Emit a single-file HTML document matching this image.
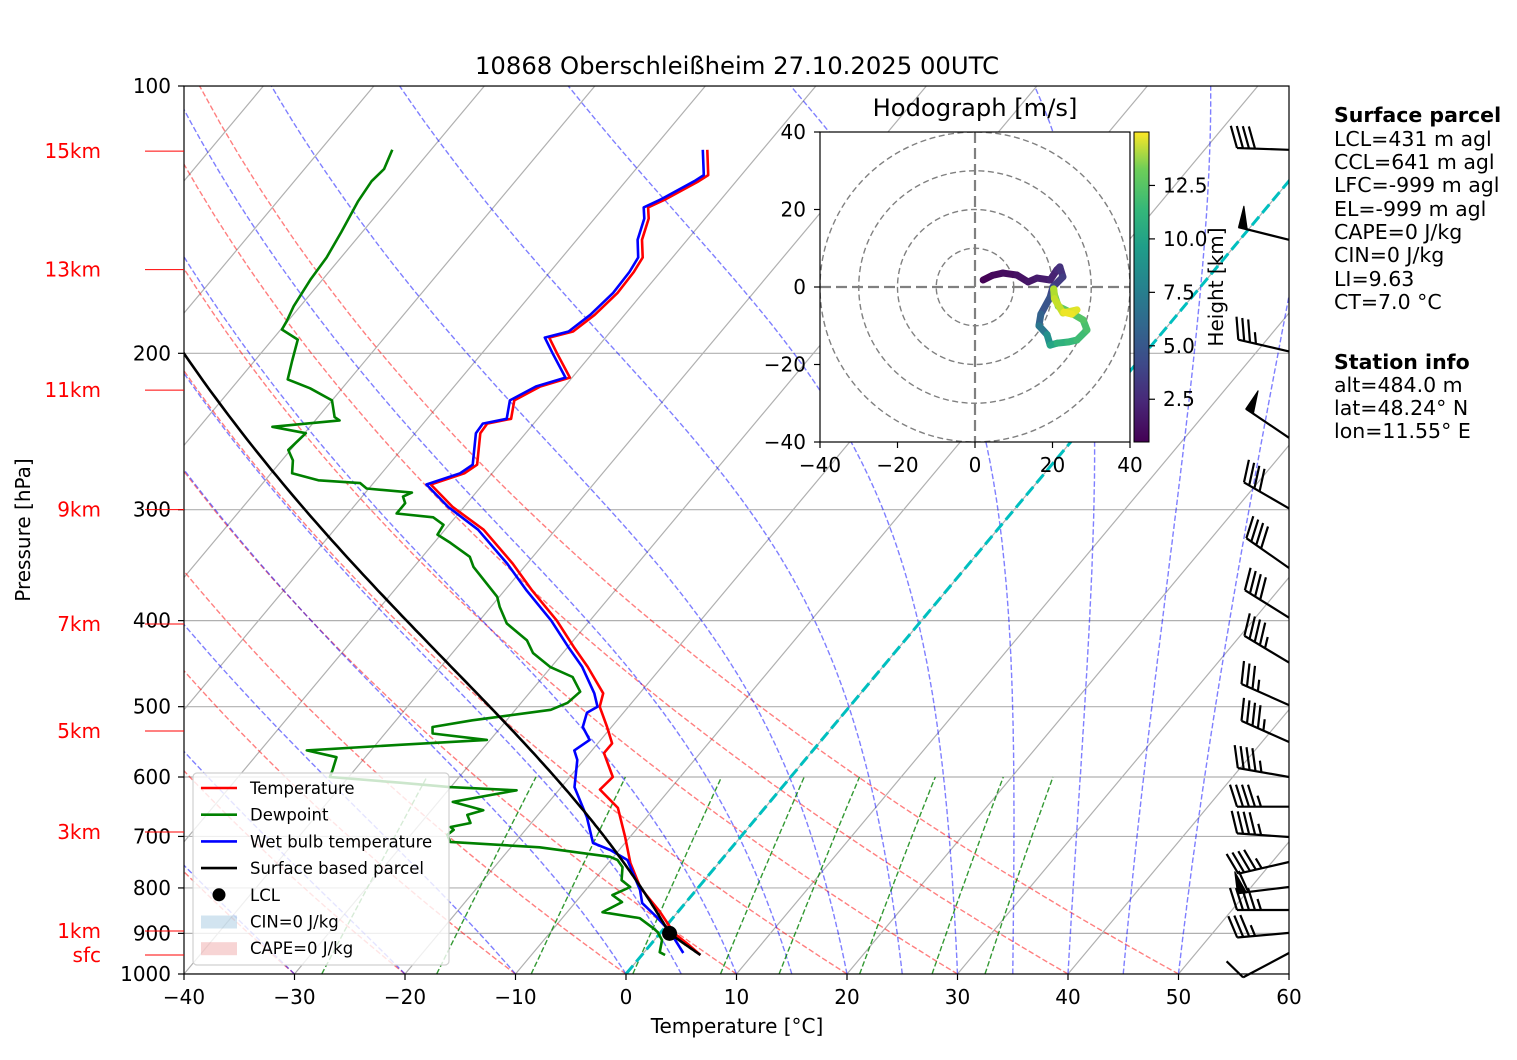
<!DOCTYPE html>
<html><head><meta charset="utf-8">
<style>
html,body{margin:0;padding:0;background:#fff;}
svg{display:block;font-family:"DejaVu Sans","Liberation Sans",sans-serif;}
</style></head>
<body>
<svg id="chart" width="1517" height="1060" viewBox="0 0 1517 1060" xmlns="http://www.w3.org/2000/svg">
<defs>
<clipPath id="mainclip"><rect x="184" y="86" width="1105" height="888"/></clipPath>
<clipPath id="hodoclip"><rect x="820" y="132" width="310" height="310"/></clipPath>
<linearGradient id="viridis" x1="0" y1="1" x2="0" y2="0">
<stop offset="0" stop-color="#440154"/><stop offset="0.13" stop-color="#482878"/><stop offset="0.25" stop-color="#3e4989"/><stop offset="0.38" stop-color="#31688e"/><stop offset="0.5" stop-color="#26828e"/><stop offset="0.63" stop-color="#1f9e89"/><stop offset="0.75" stop-color="#35b779"/><stop offset="0.88" stop-color="#6ece58"/><stop offset="1" stop-color="#fde725"/>
</linearGradient>
</defs>
<g id="bg" clip-path="url(#mainclip)"></g>
<g id="profiles" clip-path="url(#mainclip)"></g>
<rect x="184" y="86" width="1105" height="888" fill="none" stroke="#000" stroke-width="1.2"/>
<g id="axes"></g>
<g id="barbs"></g>
<g id="legend"></g>
<g id="hodo"></g>
<text x="737" y="74" font-size="24.3" text-anchor="middle">10868 Oberschleißheim 27.10.2025 00UTC</text>
<text x="737" y="1033" font-size="20" text-anchor="middle">Temperature [°C]</text>
<text transform="translate(30,530) rotate(-90)" font-size="20" text-anchor="middle">Pressure [hPa]</text>
<g font-size="20.5">
<text x="1334" y="122" font-weight="bold">Surface parcel</text>
<text x="1334" y="146">LCL=431 m agl</text>
<text x="1334" y="169">CCL=641 m agl</text>
<text x="1334" y="192">LFC=-999 m agl</text>
<text x="1334" y="216">EL=-999 m agl</text>
<text x="1334" y="239">CAPE=0 J/kg</text>
<text x="1334" y="262">CIN=0 J/kg</text>
<text x="1334" y="286">LI=9.63</text>
<text x="1334" y="309">CT=7.0 °C</text>
<text x="1334" y="369" font-weight="bold">Station info</text>
<text x="1334" y="392">alt=484.0 m</text>
<text x="1334" y="415">lat=48.24° N</text>
<text x="1334" y="438">lon=11.55° E</text>
</g>
</svg>
<script>
// ---- data ----
const tempP = [952,925,900,850,800,750,700,650,620,600,564,550,527,500,483,451,428,400,370,345,316,298,281,273,267,246,240,237,226,218,213,200,192,189,181,171,162,156,149,141,137,134,128,126,118];
const tempT = [5.3,3.3,1.3,-1.7,-5.2,-8.0,-10.5,-13.3,-16.3,-16.1,-18.7,-18.7,-20.4,-22.6,-23.3,-26.7,-29.5,-33.0,-37.5,-41.3,-46.5,-51.0,-54.7,-52.5,-52.0,-54.1,-54.2,-52.4,-53.5,-52.2,-50.2,-53.2,-55.1,-53.4,-52.7,-52.3,-52.4,-52.7,-54.1,-55.1,-56.0,-55.0,-53.4,-53.0,-55.0];
const wbP = [947,916,892,863,832,804,744,725,712,666,616,574,560,545,527,508,500,483,451,428,400,370,345,316,298,281,273,267,246,240,237,226,218,213,200,192,189,181,171,162,156,149,141,137,134,128,126,118];
const wbT = [3.6,1.9,0.5,-1.5,-3.9,-5.1,-8.5,-10.8,-12.9,-15.4,-18.8,-20.6,-21.6,-21.0,-22.6,-23.3,-22.8,-24.1,-27.2,-30.0,-33.5,-38.0,-41.8,-47.0,-51.4,-55.1,-52.9,-52.4,-54.5,-54.6,-52.8,-53.9,-52.6,-50.6,-53.6,-55.5,-53.8,-53.1,-52.7,-52.8,-53.1,-54.5,-55.5,-56.4,-55.4,-53.8,-53.4,-55.4];
const dewP = [952,945,916,897,888,865,852,830,815,798,784,758,744,738,720,710,697,688,683,676,662,654,640,621,616,609,600,589,570,560,552,545,536,527,518,504,495,481,463,451,435,421,403,386,376,348,339,327,320,312,306,303,295,290,287,284,280,278,273,264,257,246,242,238,236,226,219,214,204,193,188,184,177,165,156,146,135,128,124,118];
const dewT = [2.1,1.4,0.7,-0.3,-1.0,-3.0,-6.8,-5.8,-7.2,-6.2,-7.5,-8.4,-9.4,-10.3,-17.4,-25.9,-26.7,-26.5,-27.0,-25.5,-26.4,-25.3,-28.7,-23.8,-30.1,-34.9,-41.7,-42.0,-42.6,-45.8,-37.8,-30.3,-35.7,-36.2,-33.1,-26.8,-25.8,-25.5,-27.3,-30.1,-32.7,-34.2,-37.3,-39.2,-40.2,-44.6,-45.7,-48.5,-50.3,-50.5,-52.0,-55.6,-55.6,-56.3,-55.8,-60.2,-61.2,-65.2,-68.1,-69.0,-70.2,-69.9,-73.4,-67.8,-68.5,-70.0,-72.9,-75.6,-76.6,-77.7,-79.9,-80.1,-80.6,-81.1,-81.3,-81.9,-82.7,-83.0,-82.8,-83.5];
const parcelSfcP = 952, parcelSfcT = 5.3, parcelLclP = 900;
const xTicks = [-40,-30,-20,-10,0,10,20,30,40,50,60];
const yTicks = [100,200,300,400,500,600,700,800,900,1000];
const kmLabels = ["15km","13km","11km","9km","7km","5km","3km","1km","sfc"];
const kmP = [118.4,161,220,300,403.5,532.6,692,894.6,952];
const dryT0 = [-40,-30,-20,-10,0,10,20,30,40,50];
const moistT0 = [-40,-30,-20,-10,0,5,10,15,20,25,30,35,40,45,50];
const mixRatios = [0.0004,0.001,0.002,0.004,0.007,0.01,0.016,0.024,0.032];
const barbP = [118,149,199,249,299,349,397,446,498,548,600,648,701,748,798,847,899,947];
const barbSpd = [40,50,35,50,40,40,40,45,35,45,45,45,45,45,60,45,35,10];
const barbDir = [272,284,283,304,300,305,302,301,294,294,280,270,274,257,263,270,265,242];
const hodoU = [2.1,4.5,7.2,10.8,13.7,16.0,19.4,21.1,21.9,22.7,20.1,19.4,17.0,16.5,18.6,19.4,21.2,24.0,26.3,28.9,27.9,24.5,21.5,20.5,20.3,20.5,22.7,26.3,25.0,23.0];
const hodoV = [1.8,3.0,3.6,3.1,1.3,2.3,1.8,4.4,5.2,2.6,0.0,-2.6,-7.0,-10.0,-12.3,-15.0,-14.5,-14.2,-13.7,-11.1,-8.5,-6.5,-5.0,-2.0,-0.5,-3.0,-6.7,-5.9,-7.0,-6.5];
const hodoH = [0.5,0.7,0.9,1.1,1.3,1.5,1.7,2.0,2.4,2.8,3.4,4.0,4.6,5.5,7.0,8.5,9.5,10.0,10.3,10.6,10.9,11.2,11.5,12.0,13.0,13.5,14.0,14.3,14.5,14.8];
const hodoTicks = [-40,-20,0,20,40];
const cbTicks = [2.5,5.0,7.5,10.0,12.5];

// ---- scales ----
const NS = "http://www.w3.org/2000/svg";
const yP = p => 86 + (Math.log10(p) - 2) * 888;
const xT = (T, p) => 184 + (T + 40) * 11.05 + (974 - yP(p)) * 0.836;
function mk(tag, attrs, parent) { const e = document.createElementNS(NS, tag); for (const k in attrs) e.setAttribute(k, attrs[k]); parent.appendChild(e); return e; }
function pathFrom(ps, ts) { let d = ""; for (let i = 0; i < ps.length; i++) d += (i ? "L" : "M") + xT(ts[i], ps[i]).toFixed(1) + "," + yP(ps[i]).toFixed(1); return d; }
const es = Tc => 6.112 * Math.exp(17.67 * Tc / (Tc + 243.5));
function moist(p0, T0, pEnd) {
  const Rd = 287.04, Cp = 1005.7, Lv = 2.501e6, eps = 0.622;
  const f = (p, T) => { const e = es(T - 273.15); const rs = eps * e / (p - e); return (Rd * T + Lv * rs) / (p * (Cp + Lv * Lv * rs * eps / (Rd * T * T))); };
  let p = p0, T = T0 + 273.15; const P = [p], Ts = [T0]; const dp = -5;
  while (p > pEnd) { const k1 = f(p, T); const k2 = f(p + dp, T + dp * k1); T += dp * (k1 + k2) / 2; p += dp; P.push(p); Ts.push(T - 273.15); }
  return [P, Ts];
}
const bg = document.getElementById("bg");
const prof = document.getElementById("profiles");
const axes = document.getElementById("axes");

for (let T = -170; T <= 60; T += 10) {
  const l = mk("line", {x1: xT(T, 1000), y1: 974, x2: xT(T, 100), y2: 86, stroke: "#b0b0b0", "stroke-width": 1.2}, bg);
  
  
}
yTicks.forEach(p => {
  const l = mk("line", {x1: 184, x2: 1289, y1: yP(p), y2: yP(p), stroke: "#b0b0b0", "stroke-width": 1.2}, bg);
  
  
});
const plist = []; for (let p = 1000; p >= 100; p -= 10) plist.push(p);
dryT0.forEach(t0 => {
  const ts = plist.map(p => (t0 + 273.15) * Math.pow(p / 1000, 0.2857) - 273.15);
  const e = mk("path", {d: pathFrom(plist, ts), fill: "none", stroke: "rgba(255,0,0,0.5)", "stroke-width": 1.4, "stroke-dasharray": "5.5,2.5"}, bg);
  
  
});
moistT0.forEach(t0 => {
  const [P, Ts] = moist(1000, t0, 100);
  const e = mk("path", {d: pathFrom(P, Ts), fill: "none", stroke: "rgba(0,0,255,0.5)", "stroke-width": 1.4, "stroke-dasharray": "5.5,2.5"}, bg);
  
  
});
const mp = []; for (let p = 1000; p >= 600; p -= 10) mp.push(p);
mixRatios.forEach(w => {
  const ts = mp.map(p => { const e = w * p / (0.622 + w); const a = Math.log(e / 6.112); return 243.5 * a / (17.67 - a); });
  const e = mk("path", {d: pathFrom(mp, ts), fill: "none", stroke: "rgba(0,128,0,0.8)", "stroke-width": 1.4, "stroke-dasharray": "5.5,2.5"}, bg);
  
  
});
const zl = mk("line", {x1: xT(0, 1000), y1: 974, x2: xT(0, 100), y2: 86, stroke: "#00bfbf", "stroke-width": 3, "stroke-dasharray": "11,5"}, bg);



function series(ps, ts, color, name) {
  const e = mk("path", {d: pathFrom(ps, ts), fill: "none", stroke: color, "stroke-width": 2.6, "stroke-linejoin": "round"}, prof);
  
  
}
series(dewP, dewT, "#008000", "dewpoint-line");
series(tempP, tempT, "#ff0000", "temperature-line");
series(wbP, wbT, "#0000ff", "wetbulb-line");
const parP = [], parT = [];
for (let p = parcelSfcP; p > parcelLclP; p -= 2) { parP.push(p); parT.push((parcelSfcT + 273.15) * Math.pow(p / parcelSfcP, 0.2857) - 273.15); }
const lclT = (parcelSfcT + 273.15) * Math.pow(parcelLclP / parcelSfcP, 0.2857) - 273.15;
const [mP, mT] = moist(parcelLclP, lclT, 150);
series(parP.concat(mP), parT.concat(mT), "#000000", "parcel-line");
const lcl = mk("circle", {cx: xT(lclT, parcelLclP), cy: yP(parcelLclP), r: 7.5, fill: "#000"}, prof);



xTicks.forEach(t => {
  const x = 184 + (t + 40) * 11.05;
  const l = mk("line", {x1: x, x2: x, y1: 974, y2: 980, stroke: "#000", "stroke-width": 1.2}, axes);
  
  
  const tx = mk("text", {x: x, y: 1004, "font-size": 20, "text-anchor": "middle"}, axes);
  tx.textContent = t < 0 ? "\u2212" + (-t) : String(t);
  
  
});
yTicks.forEach(p => {
  const y = yP(p);
  const l = mk("line", {x1: 178, x2: 184, y1: y, y2: y, stroke: "#000", "stroke-width": 1.2}, axes);
  
  
  const tx = mk("text", {x: 171, y: y + 7, "font-size": 20, "text-anchor": "end"}, axes);
  tx.textContent = String(p);
  
  
});
kmLabels.forEach((lab, i) => {
  const y = yP(kmP[i]);
  const l = mk("line", {x1: 145, x2: 184, y1: y, y2: y, stroke: "#ff0000", "stroke-width": 1}, axes);
  
  
  const tx = mk("text", {x: 101, y: y + 7, "font-size": 20, fill: "#ff0000", "text-anchor": "end"}, axes);
  tx.textContent = lab;
  
  
});

const bgp = document.getElementById("barbs");
barbP.forEach((p, i) => {
  const bx = 1289, by = yP(p), L = 52;
  const a = barbDir[i] * Math.PI / 180;
  const ux = Math.sin(a), uy = -Math.cos(a);
  const nx = -uy, ny = ux;
  const tx = bx + ux * L, ty = by + uy * L;
  let d = "M" + bx + "," + by.toFixed(1) + "L" + tx.toFixed(1) + "," + ty.toFixed(1);
  let s = barbSpd[i], pos = 0; const H = 22, sp = 6;
  let flags = "";
  while (s >= 50) {
    const x0 = tx - ux * pos, y0 = ty - uy * pos;
    flags += "M" + x0.toFixed(1) + "," + y0.toFixed(1) + "L" + (x0 + nx * H).toFixed(1) + "," + (y0 + ny * H).toFixed(1) + "L" + (x0 - ux * 9).toFixed(1) + "," + (y0 - uy * 9).toFixed(1) + "Z";
    pos += 11; s -= 50;
  }
  while (s >= 10) {
    const x0 = tx - ux * pos, y0 = ty - uy * pos;
    d += "M" + x0.toFixed(1) + "," + y0.toFixed(1) + "L" + (x0 + nx * H + ux * 7).toFixed(1) + "," + (y0 + ny * H + uy * 7).toFixed(1);
    pos += sp; s -= 10;
  }
  if (s >= 5) {
    if (pos === 0) pos = sp;
    const x0 = tx - ux * pos, y0 = ty - uy * pos;
    d += "M" + x0.toFixed(1) + "," + y0.toFixed(1) + "L" + (x0 + nx * H / 2 + ux * 3.5).toFixed(1) + "," + (y0 + ny * H / 2 + uy * 3.5).toFixed(1);
  }
  const g = mk("g", {}, bgp);
  
  
  mk("path", {d: d, stroke: "#000", "stroke-width": 2.2, fill: "none"}, g);
  if (flags) mk("path", {d: flags, fill: "#000", stroke: "#000", "stroke-width": 1}, g);
});

const lg = document.getElementById("legend");
mk("rect", {x: 193, y: 773, width: 256, height: 192, rx: 4, fill: "rgba(255,255,255,0.8)", stroke: "#d0d0d0", "stroke-width": 1.2}, lg);
const legItems = [["line", "#ff0000", "Temperature"], ["line", "#008000", "Dewpoint"], ["line", "#0000ff", "Wet bulb temperature"], ["line", "#000000", "Surface based parcel"], ["dot", "#000", "LCL"], ["patch", "rgba(31,119,180,0.2)", "CIN=0 J/kg"], ["patch", "rgba(214,39,40,0.2)", "CAPE=0 J/kg"]];
legItems.forEach((it, i) => {
  const y = 788 + i * 26.7;
  const g = mk("g", {}, lg);
  
  
  if (it[0] === "line") mk("line", {x1: 201, x2: 237, y1: y, y2: y, stroke: it[1], "stroke-width": 2.6}, g);
  else if (it[0] === "dot") mk("circle", {cx: 219, cy: y, r: 6.5, fill: it[1]}, g);
  else mk("rect", {x: 201, y: y - 6, width: 36, height: 13, fill: it[1]}, g);
  const t = mk("text", {x: 250, y: y + 6, "font-size": 16.5}, g);
  t.textContent = it[2];
});

const hg = document.getElementById("hodo");
const hx = u => 975 + u * 3.875, hy = v => 287 - v * 3.875;
mk("rect", {x: 820, y: 132, width: 310, height: 310, fill: "#fff"}, hg);
const hin = mk("g", {"clip-path": "url(#hodoclip)"}, hg);
[10, 20, 30, 40].forEach(r => {
  const c = mk("circle", {cx: hx(0), cy: hy(0), r: r * 3.875, fill: "none", stroke: "#808080", "stroke-width": 1.4, "stroke-dasharray": "6,3.5"}, hin);
  
  
});
mk("line", {x1: 820, x2: 1130, y1: hy(0), y2: hy(0), stroke: "#808080", "stroke-width": 2.2, "stroke-dasharray": "11,5"}, hin);
mk("line", {x1: hx(0), x2: hx(0), y1: 132, y2: 442, stroke: "#808080", "stroke-width": 2.2, "stroke-dasharray": "11,5"}, hin);
const vStops = [[68,1,84],[72,40,120],[62,73,137],[49,104,142],[38,130,142],[31,158,137],[53,183,121],[110,206,88],[181,222,43],[253,231,37]];
function viridis(t) { t = Math.max(0, Math.min(1, t)) * (vStops.length - 1); const i = Math.min(Math.floor(t), vStops.length - 2); const f = t - i; const a = vStops[i], b = vStops[i + 1]; return "rgb(" + [0,1,2].map(k => Math.round(a[k] + (b[k] - a[k]) * f)).join(",") + ")"; }
for (let i = 0; i < hodoU.length - 1; i++) {
  const s = mk("line", {x1: hx(hodoU[i]), y1: hy(hodoV[i]), x2: hx(hodoU[i + 1]), y2: hy(hodoV[i + 1]), stroke: viridis(((hodoH[i] + hodoH[i + 1]) / 2 - 0.5) / 14.5), "stroke-width": 7, "stroke-linecap": "round"}, hin);
  
  
}
mk("rect", {x: 820, y: 132, width: 310, height: 310, fill: "none", stroke: "#000", "stroke-width": 1.2}, hg);
const ht = mk("text", {x: 975, y: 116, "font-size": 24.2, "text-anchor": "middle"}, hg);
ht.textContent = "Hodograph [m/s]";


hodoTicks.forEach(v => {
  const lab = v < 0 ? "\u2212" + (-v) : String(v);
  mk("line", {x1: hx(v), x2: hx(v), y1: 442, y2: 448, stroke: "#000", "stroke-width": 1.2}, hg);
  const t1 = mk("text", {x: hx(v), y: 472, "font-size": 20, "text-anchor": "middle"}, hg);
  t1.textContent = lab;
  
  
  mk("line", {x1: 814, x2: 820, y1: hy(v), y2: hy(v), stroke: "#000", "stroke-width": 1.2}, hg);
  const t2 = mk("text", {x: 806, y: hy(v) + 7, "font-size": 20, "text-anchor": "end"}, hg);
  t2.textContent = lab;
  
  
});
const cb = mk("rect", {x: 1134, y: 132, width: 15, height: 310, fill: "url(#viridis)", stroke: "#000", "stroke-width": 1}, hg);


cbTicks.forEach(v => {
  const y = 442 - (v - 0.5) / 14.5 * 310;
  mk("line", {x1: 1149, x2: 1155, y1: y, y2: y, stroke: "#000", "stroke-width": 1.2}, hg);
  const t = mk("text", {x: 1163, y: y + 7, "font-size": 20}, hg);
  t.textContent = v.toFixed(1);
  
  
});
const cl = mk("text", {transform: "translate(1223,287) rotate(-90)", "font-size": 20, "text-anchor": "middle"}, hg);
cl.textContent = "Height [km]";


</script>
</body></html>
